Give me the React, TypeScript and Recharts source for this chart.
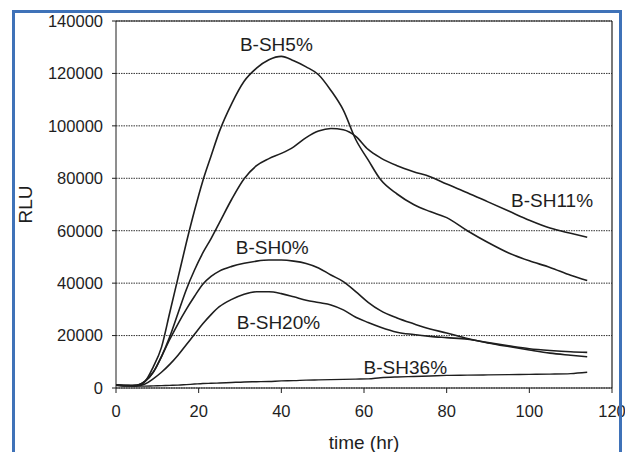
import {
  LineChart,
  Line,
  XAxis,
  YAxis,
  CartesianGrid,
  ReferenceLine,
  ReferenceDot,
} from "recharts";

const TIMES = [0, 3, 5, 7, 9, 11, 13, 15, 17, 19, 21, 23, 25, 28, 31, 34, 37, 40, 43, 46, 49, 52, 55, 58, 61, 64, 68, 72, 76, 80, 85, 90, 95, 100, 105, 110, 114];

const SH5 = [1100, 900, 1000, 2500, 8000, 15500, 28700, 42000, 55300, 67700, 79000, 88500, 97800, 108500, 117000, 122000, 125200, 126500, 124800, 122500, 119500, 113500, 106000, 94800, 87000, 79500, 74000, 70000, 67300, 65000, 60000, 55500, 51500, 48500, 46000, 43000, 41000];
const SH11 = [1100, 900, 1000, 2500, 6000, 12000, 19500, 28500, 37500, 45000, 51500, 57000, 63000, 72000, 79800, 84800, 87500, 89500, 92000, 95500, 98000, 99000, 98500, 96000, 91000, 87800, 84800, 82500, 80600, 77800, 74500, 71000, 67500, 64000, 61000, 59000, 57500];
const SH0 = [1100, 900, 1000, 2500, 6000, 12000, 18500, 24500, 30000, 35000, 39600, 42600, 44600, 46400, 47600, 48400, 48800, 48800, 48400, 47500, 45800, 43100, 40600, 36800, 32700, 29500, 26700, 24500, 22500, 21000, 18900, 17200, 15800, 14500, 13300, 12500, 11900];
const SH20 = [1100, 900, 800, 1500, 3500, 6000, 9000, 12500, 16500, 20500, 24500, 28000, 31000, 33800, 35800, 36700, 36700, 36000, 34800, 33500, 32600, 31700, 29800, 27000, 25000, 23200, 21300, 20400, 19700, 19200, 18600, 17300, 16100, 15000, 14300, 13800, 13600];
const SH36 = [1100, 900, 700, 700, 800, 900, 1000, 1100, 1300, 1500, 1700, 1800, 1900, 2100, 2300, 2400, 2500, 2700, 2800, 3000, 3100, 3200, 3300, 3400, 3500, 3900, 4200, 4400, 4600, 4800, 4900, 5000, 5100, 5200, 5300, 5500, 6000];

const X_TICKS = [0, 20, 40, 60, 80, 100, 120];
const Y_TICKS = [0, 20000, 40000, 60000, 80000, 100000, 120000, 140000];

// series labels, placed in data coordinates
const LABELS = [
  { name: "B-SH5%", t: 38.8, v: 131200 },
  { name: "B-SH11%", t: 105.5, v: 71700 },
  { name: "B-SH0%", t: 37.8, v: 53800 },
  { name: "B-SH20%", t: 39.3, v: 25200 },
  { name: "B-SH36%", t: 70, v: 8000 },
];

const data = TIMES.map((t, i) => ({
  t,
  sh5: SH5[i],
  sh11: SH11[i],
  sh0: SH0[i],
  sh20: SH20[i],
  sh36: SH36[i],
}));

const FONT = "'Liberation Sans', Arial, sans-serif";
const INK = "#1e1e1e";

export default function App() {
  const tick = { fontSize: 16.5, fill: INK, fontFamily: FONT };
  return (
    <div
      style={{
        position: "absolute",
        left: 0,
        top: 0,
        width: 625,
        height: 452,
        background: "#fff",
        overflow: "hidden",
      }}
    >
      <LineChart
        width={625}
        height={452}
        data={data}
        margin={{ top: 21, right: 13, left: 0, bottom: 0 }}
      >
        <CartesianGrid
          horizontal
          vertical={false}
          stroke="#333"
          strokeDasharray="1.5 1"
        />
        <XAxis
          dataKey="t"
          type="number"
          domain={[0, 120]}
          ticks={X_TICKS}
          height={64}
          tickSize={5}
          tickMargin={12}
          stroke={INK}
          tick={tick}
          label={{
            value: "time (hr)",
            position: "insideBottom",
            offset: 3,
            fontSize: 19,
            fill: INK,
            fontFamily: FONT,
          }}
        />
        <YAxis
          type="number"
          domain={[0, 140000]}
          ticks={Y_TICKS}
          width={116}
          tickSize={4}
          tickMargin={9}
          stroke={INK}
          tick={tick}
          label={{
            content: ({ viewBox }: any) => {
              const cx = viewBox.x + 25;
              const cy = viewBox.y + viewBox.height / 2;
              return (
                <text
                  x={cx}
                  y={cy}
                  transform={`rotate(-90, ${cx}, ${cy})`}
                  textAnchor="middle"
                  dominantBaseline="central"
                  fontSize={19}
                  fill={INK}
                  fontFamily={FONT}
                >
                  RLU
                </text>
              );
            },
          }}
        />
        <ReferenceLine y={140000} stroke={INK} strokeWidth={1.2} />
        <ReferenceLine x={120} stroke={INK} strokeWidth={1.2} />
        <Line dataKey="sh5" type="monotone" stroke={INK} strokeWidth={1.6} dot={false} isAnimationActive={false} />
        <Line dataKey="sh11" type="monotone" stroke={INK} strokeWidth={1.6} dot={false} isAnimationActive={false} />
        <Line dataKey="sh0" type="monotone" stroke={INK} strokeWidth={1.6} dot={false} isAnimationActive={false} />
        <Line dataKey="sh20" type="monotone" stroke={INK} strokeWidth={1.6} dot={false} isAnimationActive={false} />
        <Line dataKey="sh36" type="monotone" stroke={INK} strokeWidth={1.4} dot={false} isAnimationActive={false} />
        {LABELS.map((l) => (
          <ReferenceDot
            key={l.name}
            x={l.t}
            y={l.v}
            r={0}
            fill="none"
            stroke="none"
            label={{
              value: l.name,
              position: "center",
              fontSize: 19,
              fill: INK,
              fontFamily: FONT,
            }}
          />
        ))}
      </LineChart>
      <div
        style={{
          position: "absolute",
          left: 12,
          top: 10,
          width: 604,
          height: 460,
          borderLeft: "3px solid #3f72b8",
          borderTop: "3px solid #3f72b8",
          borderRight: "3px solid #3f72b8",
          pointerEvents: "none",
        }}
      />
    </div>
  );
}
